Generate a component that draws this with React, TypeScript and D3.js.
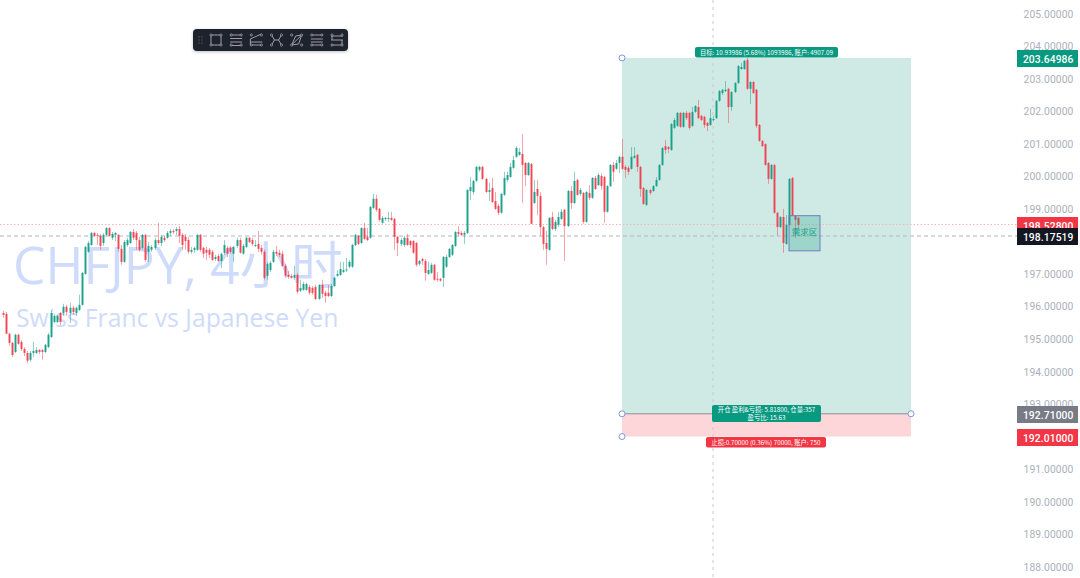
import React from "react";
import * as d3 from "d3";

type Candle = [number, number, number, number]; // open, high, low, close

const candlesA: Candle[] = [
[195.81,195.87,195.66,195.75],[195.78,195.84,195.17,195.17],[195.17,195.20,194.80,194.89],[194.89,194.92,194.46,194.52],[194.61,195.17,194.58,195.14],
[195.14,195.17,194.83,194.86],[194.92,194.98,194.64,194.70],[194.70,194.76,194.49,194.58],[194.58,194.64,194.28,194.34],[194.37,194.64,194.31,194.58],
[194.58,194.92,194.46,194.64],[194.58,194.76,194.55,194.67],[194.67,194.70,194.55,194.61],[194.67,194.70,194.37,194.61],[194.61,194.86,194.58,194.83],
[194.76,195.20,194.73,195.14],[195.07,195.87,195.04,195.81],[195.53,195.78,195.50,195.72],[195.53,195.75,195.50,195.72],[195.81,195.84,195.44,195.53],
[195.81,196.09,195.72,196.00],[196.00,196.06,195.72,195.84],[195.81,196.12,195.50,195.97],[195.97,196.03,195.75,195.84],[195.81,196.00,195.72,195.97],
[195.90,196.37,195.87,196.06],[196.06,197.07,196.03,197.04],[197.01,197.87,196.98,197.84],[197.69,198.02,197.66,197.96],[197.90,198.30,197.87,198.27],
[198.27,198.30,198.15,198.18],[198.21,198.27,197.90,198.18],[198.18,198.24,197.75,197.87],[197.96,198.27,197.87,198.21],[198.21,198.45,198.18,198.42],
[198.42,198.45,198.15,198.18],[198.12,198.30,198.05,198.24],[198.21,198.30,198.02,198.27],[198.21,198.24,197.69,197.78],[197.78,197.90,197.29,197.38],
[197.38,198.05,197.35,197.99],[197.90,198.12,197.84,198.05],[197.96,198.33,197.93,198.30],[198.30,198.39,198.05,198.12],[198.27,198.33,197.75,198.05],
[198.05,198.15,197.69,197.75],[197.81,198.24,197.75,198.21],[198.21,198.24,197.38,197.44],[197.69,197.99,197.38,197.87],[197.75,197.90,197.69,197.84],
[197.81,198.12,197.75,198.05],[198.05,198.58,197.90,197.96],[197.96,198.21,197.87,198.15],[198.12,198.18,197.99,198.05],[198.12,198.33,198.09,198.27],
[198.27,198.39,198.18,198.33],[198.33,198.39,198.24,198.30],[198.33,198.45,198.21,198.39],[198.39,198.48,197.96,198.18],[198.21,198.27,197.75,197.90],
[198.15,198.24,197.75,198.02],[198.05,198.15,197.63,197.69],[197.69,197.84,197.63,197.75],[197.75,197.84,197.66,197.81],[197.75,198.24,197.72,198.21],
[198.21,198.24,197.69,197.75],
];
const candlesB: Candle[] = [
[197.81,197.84,197.50,197.63],[197.75,197.84,197.44,197.66],[197.75,197.81,197.50,197.60],[197.69,197.75,197.41,197.44],[197.47,197.60,197.41,197.53],
[197.56,197.63,197.38,197.41],[197.41,197.66,197.19,197.63],[197.66,198.05,197.60,197.90],[197.81,197.87,197.53,197.63],[197.81,197.87,197.63,197.69],
[197.63,197.87,197.38,197.84],[197.87,198.12,197.81,198.05],[198.05,198.12,197.63,197.66],[197.63,197.93,197.60,197.87],[197.84,198.15,197.81,198.12],
[198.12,198.15,197.96,197.99],[198.05,198.12,197.87,197.93],[197.87,198.05,197.84,197.90],[197.93,198.33,197.69,197.78],[197.81,197.90,197.60,197.69],
[197.69,197.75,196.83,196.89],[196.95,197.38,196.83,197.32],[197.13,197.41,197.07,197.35],[197.38,197.75,197.35,197.69],[197.69,197.87,197.56,197.63],
[197.66,197.75,197.53,197.60],[197.63,197.72,197.23,197.26],[197.26,197.32,196.89,196.95],[196.98,197.10,196.86,196.92],[196.95,197.01,196.86,196.89],
[196.89,197.26,196.83,196.98],[196.98,197.04,196.40,196.46],[196.49,196.83,196.46,196.58],[196.52,196.77,196.49,196.70],[196.52,196.74,196.49,196.70],
[196.61,196.67,196.37,196.43],[196.58,196.64,196.37,196.43],[196.61,196.67,196.21,196.24],[196.24,196.70,196.21,196.67],[196.67,196.83,196.27,196.40],
[196.43,196.49,196.12,196.33],[196.43,196.67,196.30,196.33],[196.33,196.70,196.30,196.64],[196.64,196.92,196.61,196.89],[196.95,197.13,196.92,197.01],
[196.98,197.38,196.95,197.16],[197.07,197.38,197.04,197.13],[197.13,197.50,197.07,197.15],[197.23,197.44,197.19,197.38],[197.23,197.93,197.19,197.90],
[197.90,198.24,197.87,198.21],[198.18,198.21,197.90,197.93],[197.96,198.45,197.93,198.42],[198.42,198.58,198.05,198.09],[198.15,198.42,198.02,198.05],
[198.12,199.10,198.09,199.07],[199.04,199.47,199.01,199.32],[199.32,199.44,198.92,198.98],[199.01,199.04,198.61,198.67],
];
const candlesC: Candle[] = [
[198.58,198.79,198.55,198.73],[198.70,198.76,198.64,198.73],[198.70,198.92,198.61,198.73],[198.73,198.92,198.64,198.67],[198.70,198.73,197.75,198.15],
[198.15,198.18,197.56,197.96],[197.93,198.12,197.87,198.05],[197.90,198.18,197.84,198.12],[198.12,198.24,197.87,197.90],[198.02,198.05,197.81,197.90],
[198.02,198.05,197.63,197.66],[197.96,197.99,197.23,197.29],[197.32,197.44,197.26,197.41],[197.47,197.50,197.29,197.41],[197.41,197.47,196.80,197.04],
[197.01,197.38,196.98,197.13],[197.04,197.35,197.01,197.29],[197.29,197.32,196.80,196.83],[196.86,197.07,196.77,196.83],[196.86,196.89,196.77,196.80],
[196.89,197.56,196.61,197.53],[197.23,197.60,197.19,197.53],[197.53,197.81,197.50,197.78],[197.60,197.93,197.56,197.90],[197.87,198.33,197.84,198.30],
[198.30,198.48,198.18,198.24],[198.27,198.33,198.18,198.21],[198.21,198.33,197.93,198.27],[198.27,199.62,198.24,199.59],[199.56,199.99,199.28,199.68],
[199.53,199.90,199.44,199.87],[199.87,200.33,199.84,200.30],[200.21,200.33,200.15,200.30],[200.30,200.33,199.90,199.93],[199.93,199.96,199.50,199.53],
[199.53,199.81,199.25,199.59],[199.65,199.96,199.19,199.22],[199.25,199.53,198.98,199.01],[199.10,199.16,198.82,198.89],[198.89,199.50,198.86,199.47],
[199.44,200.15,199.41,199.96],[199.90,200.15,199.84,200.05],[199.99,200.42,199.96,200.30],[200.27,200.64,200.24,200.51],[200.61,200.94,200.58,200.88],
[200.67,200.88,200.64,200.76],[200.70,201.31,199.19,200.36],[200.42,200.45,199.71,200.05],[200.05,200.45,200.02,200.42],[200.39,200.42,198.55,198.55],
[199.19,199.90,199.16,199.53],[199.62,199.90,198.82,199.41],[199.41,199.53,198.18,198.45],[198.45,198.48,197.75,197.93],[197.96,198.33,197.29,197.78],
[197.75,198.76,197.72,198.73],[198.76,198.92,198.36,198.39],[198.39,198.67,198.33,198.61],[198.52,198.92,198.45,198.76],[198.70,199.01,198.67,198.92],
[198.98,199.01,197.41,198.48],[198.48,199.59,198.45,199.56],[199.56,199.71,199.01,199.19],[199.19,200.15,199.16,199.87],[199.90,199.93,199.41,199.44],
[199.47,199.65,199.41,199.59],[199.50,199.53,198.55,198.61],[198.61,199.56,198.58,199.53],[199.50,199.74,199.28,199.35],[199.35,199.99,199.31,199.96],
[199.96,200.02,199.59,199.62],[199.74,200.11,199.71,200.05],[200.02,200.11,199.59,199.71],[199.99,200.02,198.58,198.92],[198.92,199.74,198.89,199.71],
[199.71,200.39,199.68,200.36],[200.36,200.45,199.84,200.15],[200.24,200.51,200.21,200.42],[200.42,200.64,200.11,200.61],
];
const candlesD: Candle[] = [
[200.61,201.16,200.21,200.24],[200.30,200.36,199.96,200.21],[200.27,200.33,200.05,200.15],[200.24,200.91,200.21,200.61],[200.58,200.91,200.55,200.64],
[200.67,200.70,200.15,200.30],[200.30,200.33,199.38,199.62],[199.65,199.68,199.13,199.16],[199.13,199.62,199.10,199.59],[199.59,199.62,199.44,199.50],
[199.56,199.74,199.53,199.71],[199.71,199.99,199.68,199.90],[199.90,200.39,199.87,200.36],[200.36,200.91,200.33,200.88],[200.94,201.13,200.70,200.82],
[200.91,200.94,200.73,200.85],[200.82,201.65,200.79,201.62],[201.50,201.80,201.47,201.74],[201.56,201.99,201.53,201.96],[201.96,201.99,201.50,201.53],
[201.53,201.99,201.50,201.96],[201.96,202.02,201.74,201.80],[201.96,201.99,201.44,201.50],[201.56,202.14,201.53,201.99],[201.99,202.20,201.96,202.17],
[202.14,202.36,201.77,201.80],[201.87,201.90,201.71,201.74],[201.84,201.87,201.50,201.59],[201.65,201.68,201.40,201.56],[201.59,202.08,201.56,201.80],
[201.74,201.87,201.71,201.77],[201.80,202.36,201.77,202.33],[202.33,202.67,202.30,202.63],[202.57,202.70,202.51,202.67],[202.63,202.94,202.60,202.67],
[202.70,202.73,201.65,202.14],[202.14,202.63,202.02,202.60],[202.60,202.91,202.57,202.88],[202.88,203.43,202.85,203.40],[203.31,203.50,203.28,203.37],
[203.31,203.59,203.28,203.56],[203.59,203.65,202.67,202.70],[202.70,202.94,202.23,202.91],[202.91,202.94,202.54,202.57],[202.67,202.70,201.50,201.56],
[201.59,201.62,201.07,201.10],[201.10,201.13,200.91,200.94],[201.00,201.03,200.33,200.36],[200.42,200.45,199.78,199.93],[199.93,200.39,199.90,200.36],
[200.36,200.39,198.86,198.89],[198.89,198.92,198.18,198.45],[198.45,198.79,198.42,198.76],[198.76,199.01,197.66,197.96],[197.93,198.82,197.90,198.52],
[198.52,199.96,198.48,199.93],[199.96,199.99,198.79,198.79],[198.79,198.82,198.12,198.67],[198.73,198.76,198.39,198.52],
];
const candles: Candle[] = [...candlesA, ...candlesB, ...candlesC, ...candlesD];

// 198.00000 sits under the last-price tag in the reference, so it is not listed.
const priceTicks = [205, 204, 203, 202, 201, 200, 199, 197, 196, 195, 194, 193, 192, 191, 190, 189, 188];
const targetPrice = 203.64986;
const entryPrice = 192.71;
const stopPrice = 192.01;
const bidPrice = 198.528;
const lastPrice = 198.17519;
const demandTop = 198.8;
const demandBottom = 197.72;

const GREEN = "#089981";
const RED = "#f23645";
const FONT = "Roboto, 'Noto Sans CJK SC', sans-serif";
const CJK = "'Noto Sans CJK SC', Roboto, sans-serif";

const xBar = d3.scaleLinear().domain([0, candles.length - 1]).range([2.7, 798.3]);
const y = d3.scaleLinear().domain([188, 205]).range([567, 14]);

const boxL = 622, boxR = 911, axisL = 1017;
const cursorX = 713;

function PriceTag({ v, fill, color = "#fff", w = 61, x = axisL }: { v: number; fill: string; color?: string; w?: number; x?: number }) {
  const cy = Math.round(y(v));
  return (
    <g>
      <rect x={x} y={cy - 8} width={w} height={17} fill={fill} />
      <text x={1073.5} y={cy + 4.5} textAnchor="end" fontSize={10.3} fontWeight={500} letterSpacing={0.1} fill={color} fontFamily={FONT}>
        {v.toFixed(5)}
      </text>
    </g>
  );
}

function Handle({ cx, cy }: { cx: number; cy: number }) {
  return <circle cx={cx} cy={cy} r={3} fill="#fff" stroke="#7f97e0" strokeWidth={1} />;
}

const ICONS: string[] = [
  "M-5 -5H5V5H-5Z",
  "M-6 -5H6M-6 -1.5H6M-6 2H6M-6 5.5H6",
  "M-6 -1L5 -6M-6 2H6M-6 5H6M-6 -1V5",
  "M-5 -5L-2 0L-5 5M5 -5L2 0L5 5M-2 0H2",
  "M-5 5L-1 -4L5 -5L2 4Z M-5 5L5 -5",
  "M-6 -5H6M-6 -1H6M-6 2H6M-6 5H6",
  "M-6 -4H6M-6 0H6M-6 5H6M-5 -4V0M5 0V5",
];

function Toolbar() {
  const left = 193, top = 29, w = 155, h = 22;
  const iconX = d3.scaleLinear().domain([0, 6]).range([216, 337]);
  return (
    <g>
      <rect x={left} y={top + 1} width={w} height={h} rx={4} fill="#000" opacity={0.25} style={{ filter: "blur(1.5px)" }} />
      <rect x={left} y={top} width={w} height={h} rx={4} fill="#1e222d" />
      {[0, 1].map((c) => [0, 1, 2].map((r) => (
        <circle key={`${c}${r}`} cx={199 + c * 3} cy={37 + r * 3} r={0.7} fill="#5d606b" />
      )))}
      {ICONS.map((d, i) => (
        <g key={i} transform={`translate(${iconX(i)},40)`}>
          <path d={d} fill="none" stroke="#a9adb8" strokeWidth={0.9} />
          {[[-5, -5], [5, -5], [-5, 5], [5, 5]].map(([a, b], j) => (
            <circle key={j} cx={a} cy={b} r={1.1} fill="#1e222d" stroke="#a9adb8" strokeWidth={0.7} />
          ))}
        </g>
      ))}
    </g>
  );
}

export default function App() {
  const H = 578;
  return (
    <svg width={1080} height={H} style={{ position: "absolute", left: 0, top: 0, display: "block", background: "#fff" }}>
      {/* watermark */}
      <text x={13} y={284} fontSize={51.5} fill="#cfdbfa" fontFamily="'Open Sans', 'Noto Sans CJK SC', sans-serif">CHFJPY, 4小时</text>
      <text x={16} y={327} fontSize={24.7} fill="#cfdbfa" fontFamily="'Open Sans', sans-serif">Swiss Franc vs Japanese Yen</text>

      {/* position zones */}
      <rect x={boxL} y={y(targetPrice)} width={boxR - boxL} height={y(entryPrice) - y(targetPrice)} fill="#cfeae5" />
      <rect x={boxL} y={y(entryPrice)} width={boxR - boxL} height={y(stopPrice) - y(entryPrice)} fill="#fcd6d9" />

      {/* price axis labels */}
      {priceTicks.map((t) => (
        <text key={t} x={1073.5} y={y(t) + 3.7} textAnchor="end" fontSize={10.3} letterSpacing={0.1} fill="#aab0ba" fontFamily={FONT}>
          {t.toFixed(5)}
        </text>
      ))}

      {/* crosshair & price lines */}
      <line x1={cursorX} x2={cursorX} y1={0} y2={H} stroke="#c4c8ce" strokeDasharray="3 4" />
      <line x1={0} x2={axisL} y1={y(bidPrice)} y2={y(bidPrice)} stroke="#f7b3ba" strokeDasharray="1.5 2" />
      <line x1={0} x2={axisL} y1={y(lastPrice)} y2={y(lastPrice)} stroke="#b4b6bc" strokeDasharray="4 3" />

      {/* candles */}
      {candles.map(([o, h, l, c], i) => {
        const up = c >= o;
        const col = up ? GREEN : RED;
        const cx = Math.round(xBar(i));
        const top = y(Math.max(o, c));
        const hgt = Math.max(1, Math.abs(y(o) - y(c)));
        return (
          <g key={i}>
            <line x1={cx + 0.5} x2={cx + 0.5} y1={y(h)} y2={y(l)} stroke={col} strokeOpacity={0.45} />
            <rect x={cx - 0.5} y={top} width={2} height={hgt} fill={col} fillOpacity={0.85} />
          </g>
        );
      })}

      {/* demand zone */}
      <rect x={789} y={y(demandTop)} width={31} height={y(demandBottom) - y(demandTop)} fill="#089981" fillOpacity={0.25} stroke="#6f7fc0" strokeWidth={1} />
      <text x={804.5} y={235} textAnchor="middle" fontSize={8.5} fill="#15a085" fontFamily={CJK}>需求区</text>

      {/* entry line */}
      <line x1={boxL} x2={boxR} y1={y(entryPrice)} y2={y(entryPrice)} stroke="#8b8f99" strokeWidth={1} />

      {/* pills */}
      <rect x={695} y={47} width={143} height={10.5} rx={2} fill={GREEN} />
      <text x={766.5} y={54.6} textAnchor="middle" fontSize={6.3} fill="#fff" fontFamily={CJK}>目标: 10.93986 (5.68%) 1093986, 账户: 4907.09</text>
      <rect x={712} y={405} width={109} height={17} rx={2} fill={GREEN} />
      <text x={766.5} y={412.4} textAnchor="middle" fontSize={6.3} fill="#fff" fontFamily={CJK}>开仓 盈利&亏损: 5.81800, 仓量:357</text>
      <text x={766.5} y={419.6} textAnchor="middle" fontSize={6.3} fill="#fff" fontFamily={CJK}>盈亏比: 15.63</text>
      <rect x={706} y={437} width={120} height={10.5} rx={2} fill={RED} />
      <text x={766} y={444.6} textAnchor="middle" fontSize={6.3} fill="#fff" fontFamily={CJK}>止损:0.70000 (0.36%) 70000, 账户: 750</text>

      <Handle cx={boxL} cy={y(targetPrice)} />
      <Handle cx={boxL} cy={y(entryPrice)} />
      <Handle cx={boxR} cy={y(entryPrice)} />
      <Handle cx={boxL} cy={y(stopPrice)} />

      {/* price tags */}
      <PriceTag v={targetPrice} fill={GREEN} />
      <PriceTag v={entryPrice} fill="#787b86" />
      <PriceTag v={stopPrice} fill={RED} />
      <PriceTag v={bidPrice} fill={RED} />
      <PriceTag v={lastPrice} fill="#131722" />

      <Toolbar />
    </svg>
  );
}
